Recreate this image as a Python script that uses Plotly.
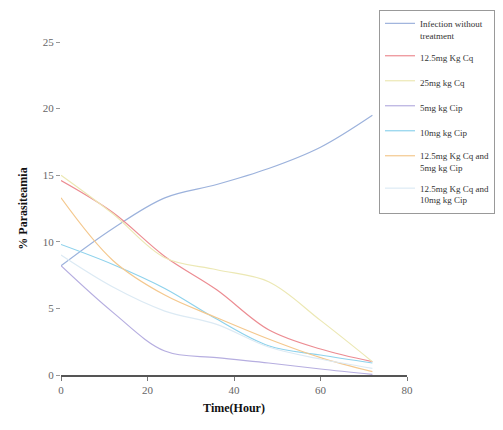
import plotly.graph_objects as go

time_h = [0, 12, 24, 36, 48, 60, 72]

infection = [8.2, 11.0, 13.3, 14.3, 15.5, 17.1, 19.5]
cq_12_5 = [14.6, 12.2, 8.9, 6.4, 3.4, 1.95, 1.0]
cq_25 = [15.0, 12.1, 8.8, 7.9, 7.0, 4.1, 1.0]
cip_5 = [8.2, 4.7, 1.8, 1.3, 0.9, 0.45, 0.05]
cip_10 = [9.8, 8.3, 6.5, 4.2, 2.2, 1.5, 0.9]
cq_cip_5 = [13.3, 8.6, 6.0, 4.3, 2.7, 1.3, 0.25]
cq_cip_10 = [9.0, 6.6, 4.8, 3.8, 2.1, 1.2, 0.5]

names = ["Infection without<br>treatment", "12.5mg Kg Cq", "25mg kg Cq",
         "5mg kg Cip", "10mg kg Cip", "12.5mg Kg Cq and<br>5mg kg Cip",
         "12.5mg Kg Cq and<br>10mg kg Cip"]
series = [infection, cq_12_5, cq_25, cip_5, cip_10, cq_cip_5, cq_cip_10]
colors = ["#9cb2dc", "#ec8c92", "#ece8b4", "#b6aee0", "#8ed2ec", "#f4c88e", "#dceaf4"]

x_ticks = [0, 20, 40, 60, 80]
y_ticks = [0, 5, 10, 15, 20, 25]

fig = go.Figure()
for i, (nm, ys, c) in enumerate(zip(names, series, colors)):
    fig.add_trace(go.Scatter(
        x=time_h, y=ys, name=nm, mode="lines",
        line=dict(color=c, width=1.2, shape="spline", smoothing=1.0),
        legendgroup=f"g{i}",
    ))

serif = "Liberation Serif"
W, H = 495, 422
fig.update_layout(
    width=W, height=H,
    margin=dict(l=53, r=96, t=34, b=55, autoexpand=False),
    paper_bgcolor="white", plot_bgcolor="white",
    showlegend=True,
    legend=dict(
        xref="container", yref="container",
        x=371 / W, y=1 - 2 / H, xanchor="left", yanchor="top",
        font=dict(family=serif, size=9, color="#333333"),
        bordercolor="#999999", borderwidth=1,
        valign="top", tracegroupgap=6, itemwidth=30,
        bgcolor="white",
    ),
    font=dict(family=serif),
)
fig.update_xaxes(
    range=[0, 80], tickvals=x_ticks, ticktext=[str(v) for v in x_ticks],
    showgrid=False, zeroline=False,
    showline=True, linecolor="#555555", linewidth=1.5,
    ticks="outside", ticklen=4, tickcolor="#777777",
    tickfont=dict(family=serif, size=11, color="#666666"),
    title=dict(text="<b>Time(Hour)</b>", font=dict(family=serif, size=12, color="#111111"), standoff=9),
)
fig.update_yaxes(
    range=[0, 25], tickvals=y_ticks, ticktext=[str(v) for v in y_ticks],
    showgrid=False, zeroline=False, showline=False,
    ticks="outside", ticklen=4, tickcolor="#999999",
    tickfont=dict(family=serif, size=11, color="#666666"),
    title=dict(text="<b>% Parasiteamia</b>", font=dict(family=serif, size=12, color="#111111"), standoff=12),
)

fig.write_html("out.html")
